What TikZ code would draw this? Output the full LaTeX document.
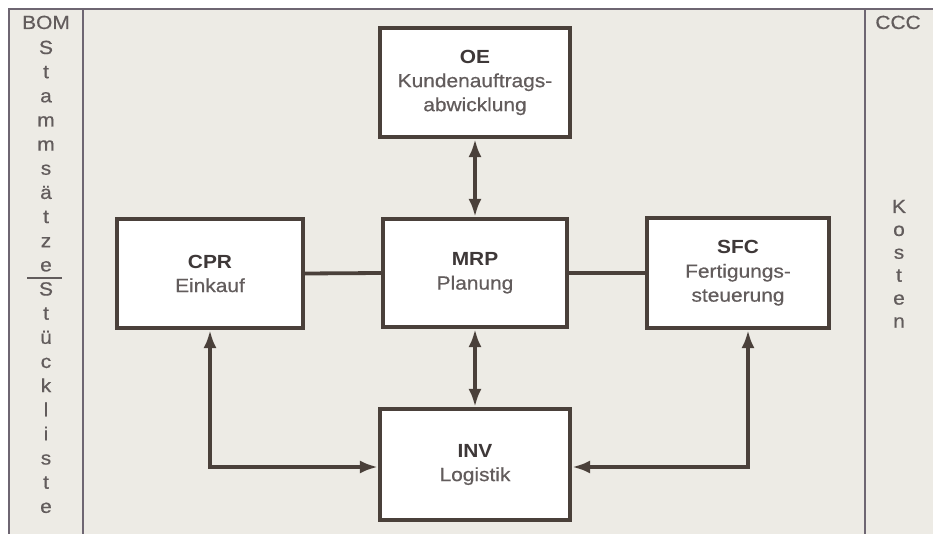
\documentclass[tikz,border=0pt]{standalone}
\usepackage{fontspec}
\setmainfont{Liberation Sans}[FakeStretch=1.1, UprightFeatures={FakeBold=0.6}]
\usetikzlibrary{arrows.meta}
\definecolor{bg}{HTML}{EDEBE5}
\definecolor{ink}{HTML}{4A403A}
\definecolor{txt}{HTML}{625C5C}
\definecolor{txtb}{HTML}{3E3838}
\definecolor{framec}{HTML}{6E6672}
\begin{document}
\begin{tikzpicture}[x=1pt,y=-1pt,
  box/.style={draw=ink, line width=4.2pt, fill=white, inner sep=0pt, align=center,
    text=txt, font=\fontsize{19}{24}\selectfont},
  link/.style={draw=ink, line width=3.8pt},
  biarrow/.style={{Latex[length=18pt,width=13pt]}-{Latex[length=18pt,width=13pt]}},
  letter/.style={text=txt, font=\fontsize{19}{24}\selectfont, anchor=base, inner sep=0pt},
  framel/.style={draw=framec, line width=1.8pt}
]
\useasboundingbox (0,0) rectangle (933,534);
\fill[white] (0,0) rectangle (933,534);
\fill[bg] (9,9) rectangle (933,534);
\draw[framel] (9,534) -- (9,9) -- (933,9);
\draw[framel] (83,9) -- (83,534);
\draw[framel] (865,9) -- (865,534);

% left column
\node[letter] (bom) at (46,29) {BOM};
\foreach \ch [count=\i] in {S,t,a,m,m,s,ä,t,z,e,S,t,ü,c,k,l,i,s,t,e}
  \node[letter] (L\i) at (46,{54+(\i-1)*24.15}) {\ch};
\coordinate (sepL) at (27,278);
\coordinate (sepR) at (62,278);
\draw[draw=txt, line width=1.2pt] (sepL) -- (sepR);

% right column
\node[letter] (ccc) at (898,29) {CCC};
\foreach \ch [count=\i] in {K,o,s,t,e,n}
  \node[letter] (K\i) at (899,{213+(\i-1)*22.9}) {\ch};

% boxes
\node[box, minimum width=190pt, minimum height=109pt] (OE) at (475,82.5)
  {{\color{txtb}\bfseries OE}\\Kundenauftrags-\\abwicklung};
\node[box, minimum width=186pt, minimum height=109pt] (CPR) at (210,273.5)
  {{\color{txtb}\bfseries CPR}\\Einkauf};
\node[box, minimum width=184pt, minimum height=108pt] (MRP) at (475,273)
  {{\color{txtb}\bfseries MRP}\\Planung};
\node[box, minimum width=182pt, minimum height=110pt] (SFC) at (738,273)
  {{\color{txtb}\bfseries SFC}\\Fertigungs-\\steuerung};
\node[box, minimum width=190pt, minimum height=111pt] (INV) at (475,464.5)
  {{\color{txtb}\bfseries INV}\\Logistik};

% connectors
\draw[link, biarrow] (OE.south) -- (MRP.north);
\draw[link, biarrow] (MRP.south) -- (INV.north);
\draw[link] (CPR.east) -- (MRP.west);
\draw[link] (MRP.east) -- (SFC.west);
\draw[link, biarrow] (CPR.south) |- ([yshift=-2.5pt]INV.west);
\draw[link, biarrow] ([xshift=10pt]SFC.south) |- ([yshift=-2.5pt]INV.east);
\end{tikzpicture}
\end{document}
